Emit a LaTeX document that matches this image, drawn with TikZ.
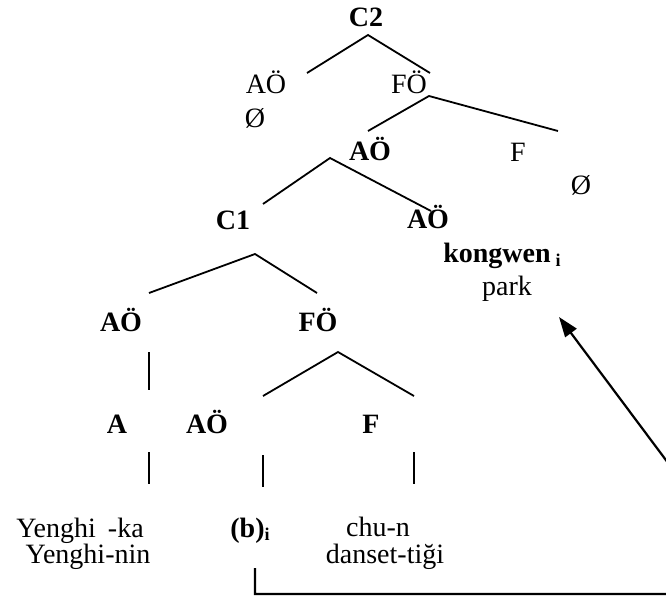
\documentclass[tikz,border=0pt]{standalone}
\usepackage{fontspec}
\setmainfont{Liberation Serif}
\usetikzlibrary{arrows.meta}
\begin{document}
\begin{tikzpicture}[x=1pt,y=-1pt,
  lbl/.style={inner sep=0pt,outer sep=0pt,anchor=base,font=\fontsize{28}{32}\selectfont},
  blbl/.style={lbl,font=\fontsize{28}{32}\selectfont\bfseries},
  branch/.style={line width=1.8pt},
  link/.style={line width=2.2pt,-{Triangle[length=20pt,width=14pt]}}]
\useasboundingbox (0,0) rectangle (666,597);

% labels of the tree
\node[blbl] (c2)      at (366,27)  {C2};
\node[lbl]  (aoTop)   at (266,93)  {AÖ};
\node[lbl]  (nullA)   at (255,127) {Ø};
\node[lbl]  (foTop)   at (409,93)  {FÖ};
\node[blbl] (aoMid)   at (370,160) {AÖ};
\node[lbl]  (fMid)    at (518,161) {F};
\node[lbl]  (nullF)   at (581,194) {Ø};
\node[blbl] (c1)      at (233,229) {C1};
\node[blbl] (aoRight) at (428,228) {AÖ};
\node[blbl] (kongwen) at (502,262) {kongwen\hspace{5pt}\raisebox{-4pt}{\fontsize{18}{18}\selectfont i}};
\node[lbl]  (park)    at (507,295) {park};
\node[blbl] (aoLeft)  at (121,331) {AÖ};
\node[blbl] (foLow)   at (318,331) {FÖ};
\node[blbl] (aLow)    at (117,433) {A};
\node[blbl] (aoLow)   at (207,433) {AÖ};
\node[blbl] (fLow)    at (371,433) {F};
\node[lbl]  (yka)     at (80,537)  {Yenghi\hspace{12pt}-ka};
\node[lbl]  (ynin)    at (88,563)  {Yenghi-nin};
\node[blbl] (bi)      at (250,537) {(b)\raisebox{-3pt}{\fontsize{18}{18}\selectfont i}};
\node[lbl]  (chun)    at (378,536) {chu-n};
\node[lbl]  (danset)  at (385,563) {danset-tiği};

% branch points and branch ends
\coordinate (c2apex)  at (368,35);
\coordinate (c2l)     at (307,73);
\coordinate (c2r)     at (430,73);
\coordinate (foapex)  at (429,96);
\coordinate (fol)     at (368,131);
\coordinate (for)     at (558,131);
\coordinate (aoapex)  at (330,158);
\coordinate (aol)     at (263,204);
\coordinate (aor)     at (431,211);
\coordinate (c1apex)  at (255,254);
\coordinate (c1l)     at (149,293);
\coordinate (c1r)     at (317,293);
\coordinate (fo2apex) at (338,352);
\coordinate (fo2l)    at (263,396);
\coordinate (fo2r)    at (414,396);
\coordinate (v1t) at (149,352); \coordinate (v1b) at (149,390);
\coordinate (v2t) at (149,452); \coordinate (v2b) at (149,484);
\coordinate (v3t) at (263,455); \coordinate (v3b) at (263,487);
\coordinate (v4t) at (414,452); \coordinate (v4b) at (414,484);

\draw[branch] (c2l) -- (c2apex) -- (c2r);
\draw[branch] (fol) -- (foapex) -- (for);
\draw[branch] (aol) -- (aoapex) -- (aor);
\draw[branch] (c1l) -- (c1apex) -- (c1r);
\draw[branch] (fo2l) -- (fo2apex) -- (fo2r);
\draw[branch] (v1t) -- (v1b);
\draw[branch] (v2t) -- (v2b);
\draw[branch] (v3t) -- (v3b);
\draw[branch] (v4t) -- (v4b);

% movement link from the gap back to the moved phrase
\coordinate (gapfoot) at (255,568);
\coordinate (turn1)   at (255,594);
\coordinate (turn2)   at (766,594);
\coordinate (target)  at (559,317);
\begin{scope}
  \clip (0,0) rectangle (666,597);
  \draw[link] (gapfoot) -- (turn1) -- (turn2) -- (target);
\end{scope}
\end{tikzpicture}
\end{document}
